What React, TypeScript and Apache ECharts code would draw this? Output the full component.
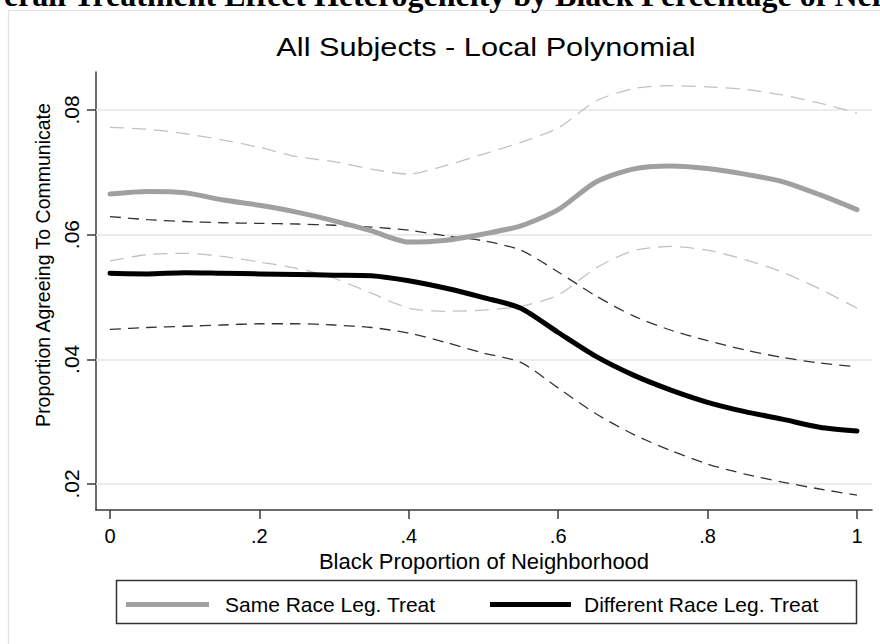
import React, { useEffect, useRef } from "react";
import * as echarts from "echarts";

const xGrid = [0, 0.05, 0.1, 0.15, 0.2, 0.25, 0.3, 0.35, 0.4, 0.45, 0.5, 0.55, 0.6, 0.65, 0.7, 0.75, 0.8, 0.85, 0.9, 0.95, 1.0];

const sameRace = [0.0665, 0.0669, 0.0667, 0.0656, 0.0647, 0.0636, 0.0622, 0.0606, 0.0588, 0.0591, 0.0601, 0.0614, 0.0640, 0.0684, 0.0705, 0.0710, 0.0706, 0.0697, 0.0685, 0.0664, 0.0640];
const sameRaceUpper = [0.0772, 0.0769, 0.0762, 0.0752, 0.0740, 0.0725, 0.0717, 0.0705, 0.0697, 0.0711, 0.0729, 0.0748, 0.0771, 0.0814, 0.0834, 0.0839, 0.0837, 0.0833, 0.0824, 0.0811, 0.0795];
const sameRaceLower = [0.0558, 0.0568, 0.0570, 0.0565, 0.0556, 0.0546, 0.0530, 0.0506, 0.0482, 0.0477, 0.0479, 0.0485, 0.0503, 0.0546, 0.0574, 0.0581, 0.0575, 0.0560, 0.0540, 0.0513, 0.0482];

const diffRace = [0.0538, 0.0537, 0.0539, 0.0538, 0.0537, 0.0536, 0.0535, 0.0534, 0.0526, 0.0514, 0.0499, 0.0482, 0.0443, 0.0405, 0.0375, 0.0351, 0.0331, 0.0316, 0.0304, 0.0291, 0.0285];
const diffRaceUpper = [0.0629, 0.0624, 0.0621, 0.0619, 0.0618, 0.0617, 0.0615, 0.0612, 0.0607, 0.0598, 0.0590, 0.0575, 0.0540, 0.0502, 0.0470, 0.0447, 0.0430, 0.0415, 0.0403, 0.0394, 0.0388];
const diffRaceLower = [0.0448, 0.0451, 0.0453, 0.0455, 0.0457, 0.0457, 0.0455, 0.0451, 0.0442, 0.0427, 0.0410, 0.0395, 0.0354, 0.0313, 0.0280, 0.0254, 0.0232, 0.0216, 0.0203, 0.0192, 0.0182];

const xTicks = [0, 0.2, 0.4, 0.6, 0.8, 1];
const yTicks = [0.02, 0.04, 0.06, 0.08];

const seriesNames = ["Same Race Leg. Treat", "Different Race Leg. Treat"];
const topTitle = "Overall Treatment Effect Heterogeneity by Black Percentage of Neighborhood";
const chartTitle = "All Subjects - Local Polynomial";
const xName = "Black Proportion of Neighborhood";
const yName = "Proportion Agreeing To Communicate";

const FONT = "'Liberation Sans', Arial, Helvetica, sans-serif";

const pairs = (ys: number[]) => xGrid.map((x, i) => [x, ys[i]]);

const fmtX = (v: number) => (v === 0 || v === 1 ? String(v) : v.toFixed(1).slice(1));
const fmtY = (v: number) => v.toFixed(2).slice(1);

export default function App() {
  const ref = useRef<HTMLDivElement>(null);

  useEffect(() => {
    if (!ref.current) return;
    const chart = echarts.init(ref.current, null, { renderer: "svg" });

    const dashed = (name: string, data: number[], color: string, dash: number[], extra: any = {}) => ({
      type: "line",
      name,
      data: pairs(data),
      showSymbol: false,
      symbol: "none",
      smooth: 0.25,
      lineStyle: { color, width: 1.3, type: dash },
      itemStyle: { color },
      silent: true,
      z: 2,
      ...extra,
    });

    chart.setOption({
      animation: false,
      backgroundColor: "#ffffff",
      textStyle: { fontFamily: FONT },
      grid: { left: 96, top: 72, right: 8, bottom: 134, containLabel: false },
      legend: [
        {
          data: [seriesNames[0]],
          left: 126,
          top: 594,
          padding: 0,
          icon: "rect",
          itemWidth: 83,
          itemHeight: 5,
          textStyle: { fontFamily: FONT, fontSize: 21, color: "#000", padding: [0, 0, 0, 11] },
          selectedMode: false,
        },
        {
          data: [seriesNames[1]],
          left: 490,
          top: 594,
          padding: 0,
          icon: "rect",
          itemWidth: 81,
          itemHeight: 5,
          textStyle: { fontFamily: FONT, fontSize: 21, color: "#000", padding: [0, 0, 0, 8] },
          selectedMode: false,
        },
      ],
      xAxis: {
        type: "value",
        min: -0.0187,
        max: 1.0201,
        name: xName,
        nameLocation: "middle",
        nameGap: 33,
        nameTextStyle: { fontFamily: FONT, fontSize: 22, color: "#000" },
        axisLine: { show: true, onZero: false, lineStyle: { color: "#3a3a3a", width: 1.5 } },
        axisTick: { show: true, length: 9, customValues: xTicks, lineStyle: { color: "#3a3a3a", width: 1.5 } },
        axisLabel: { customValues: xTicks, formatter: fmtX, margin: 16, fontSize: 20, color: "#000", fontFamily: FONT },
        splitLine: { show: false },
      },
      yAxis: {
        type: "value",
        min: 0.01583,
        max: 0.08608,
        name: yName,
        nameLocation: "middle",
        nameGap: 42,
        nameRotate: 90,
        nameTextStyle: { fontFamily: FONT, fontSize: 19.5, color: "#000", padding: [0, 0, 0, 52] },
        axisLine: { show: true, onZero: false, lineStyle: { color: "#3a3a3a", width: 1.5 } },
        axisTick: { show: true, length: 9, customValues: yTicks, lineStyle: { color: "#3a3a3a", width: 1.5 } },
        axisLabel: { customValues: yTicks, formatter: fmtY, rotate: 90, margin: 14, fontSize: 21, color: "#000", fontFamily: FONT },
        splitLine: { show: false },
      },
      graphic: [
        {
          type: "rect",
          silent: true,
          z: -10,
          shape: { x: 8.5, y: 10.5, width: 900, height: 700 },
          style: { fill: "none", stroke: "#e2e2e2", lineWidth: 1.2 },
        },
        {
          type: "text",
          silent: true,
          x: -37,
          y: 11,
          style: {
            text: topTitle,
            font: "bold 32px 'Liberation Serif', 'Times New Roman', serif",
            fill: "#000",
            textAlign: "left",
            textVerticalAlign: "bottom",
          },
        },
        {
          type: "text",
          silent: true,
          x: 486,
          y: 47,
          scaleX: 1.18,
          style: {
            text: chartTitle,
            font: "26px 'Liberation Sans', Arial, sans-serif",
            fill: "#000",
            textAlign: "center",
            textVerticalAlign: "middle",
          },
        },
        {
          type: "rect",
          silent: true,
          shape: { x: 116.5, y: 580.5, width: 740, height: 43 },
          style: { fill: "none", stroke: "#333", lineWidth: 1.5 },
        },
      ],
      series: [
        dashed("Same Race upper CI", sameRaceUpper, "#c2c2c2", [14, 8], {
          markLine: {
            silent: true,
            symbol: "none",
            label: { show: false },
            lineStyle: { color: "#e6e6e6", width: 1.5, type: "solid" },
            data: yTicks.map((v) => ({ yAxis: v })),
            z: 1,
          },
        }),
        dashed("Same Race lower CI", sameRaceLower, "#c2c2c2", [14, 8]),
        dashed("Different Race upper CI", diffRaceUpper, "#333333", [11, 7]),
        dashed("Different Race lower CI", diffRaceLower, "#333333", [11, 7]),
        {
          type: "line",
          name: seriesNames[0],
          data: pairs(sameRace),
          showSymbol: false,
          symbol: "none",
          smooth: 0.25,
          lineStyle: { color: "#a0a0a0", width: 5, cap: "round", join: "round" },
          itemStyle: { color: "#a0a0a0" },
          z: 3,
        },
        {
          type: "line",
          name: seriesNames[1],
          data: pairs(diffRace),
          showSymbol: false,
          symbol: "none",
          smooth: 0.25,
          lineStyle: { color: "#000000", width: 5, cap: "round", join: "round" },
          itemStyle: { color: "#000000" },
          z: 4,
        },
      ],
    });

    return () => chart.dispose();
  }, []);

  return <div ref={ref} style={{ width: 880, height: 644, position: "absolute", left: 0, top: 0 }} />;
}
